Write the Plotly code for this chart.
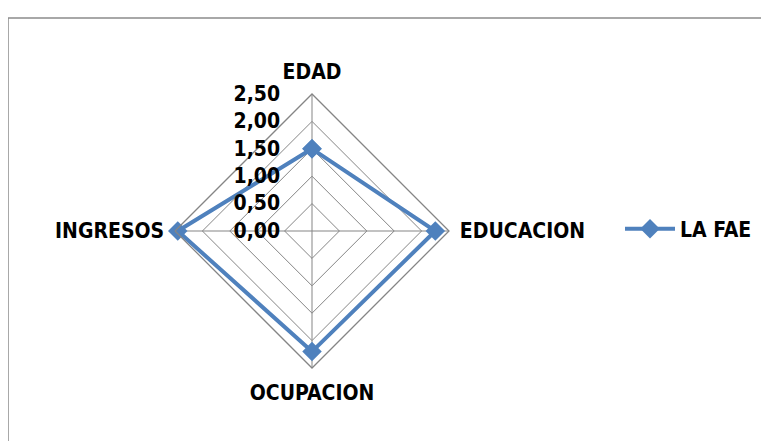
import plotly.graph_objects as go

# data
categorias = ["EDAD", "EDUCACION", "OCUPACION", "INGRESOS"]
valores_fae = [1.50, 2.25, 2.20, 2.45]
nombre_serie = "LA FAE"

azul = "#4F81BD"
gris = "#858585"
fuente = "DejaVu Sans Condensed"

# close the loop so the polygon is drawn all round
r = valores_fae + valores_fae[:1]
theta = categorias + categorias[:1]

fig = go.Figure()
fig.add_trace(go.Scatterpolar(
    r=r, theta=theta, name=nombre_serie, mode="lines+markers",
    line=dict(color=azul, width=4),
    marker=dict(symbol="diamond", size=15, color=azul),
))

# page body has an 8px margin, so the figure is drawn 8px in from the window edge
OFF = 8
W, H = 769 - OFF, 441 - OFF
cx, cy, rad = 312 - OFF, 231 - OFF, 137
tfont = dict(family=fuente, size=21, color="black", weight="bold")

fig.update_layout(
    width=W, height=H,
    margin=dict(l=0, r=0, t=0, b=0),
    paper_bgcolor="white",
    separators=",.",
    font=tfont,
    polar=dict(
        domain=dict(x=[(cx - rad) / W, (cx + rad) / W],
                    y=[1 - (cy + rad) / H, 1 - (cy - rad) / H]),
        gridshape="linear",
        bgcolor="white",
        radialaxis=dict(
            range=[0, 2.5], dtick=0.5, tick0=0, tickformat=".2f",
            angle=90, tickangle=90, side="counterclockwise", showline=False,
            ticks="outside", ticklen=24, tickcolor="rgba(0,0,0,0)",
            gridcolor=gris, gridwidth=1.3,
            tickfont=tfont,
        ),
        angularaxis=dict(
            rotation=90, direction="clockwise",
            showline=True, linecolor=gris, linewidth=1.3,
            gridcolor=gris, gridwidth=1.3,
            ticks="outside", ticklen=6, tickcolor="rgba(0,0,0,0)",
            tickfont=tfont,
        ),
    ),
    showlegend=True,
    legend=dict(x=(620 - OFF) / W, y=1 - (229 - OFF) / H, xanchor="left", yanchor="middle",
                font=tfont, itemwidth=50, bgcolor="rgba(0,0,0,0)"),
    shapes=[dict(type="rect", xref="paper", yref="paper",
                 x0=0, x1=1.02, y0=-0.02, y1=1 - (18 - OFF) / H,
                 line=dict(color="#8C8C8C", width=1.5))],
)

fig.write_html("out.html")
